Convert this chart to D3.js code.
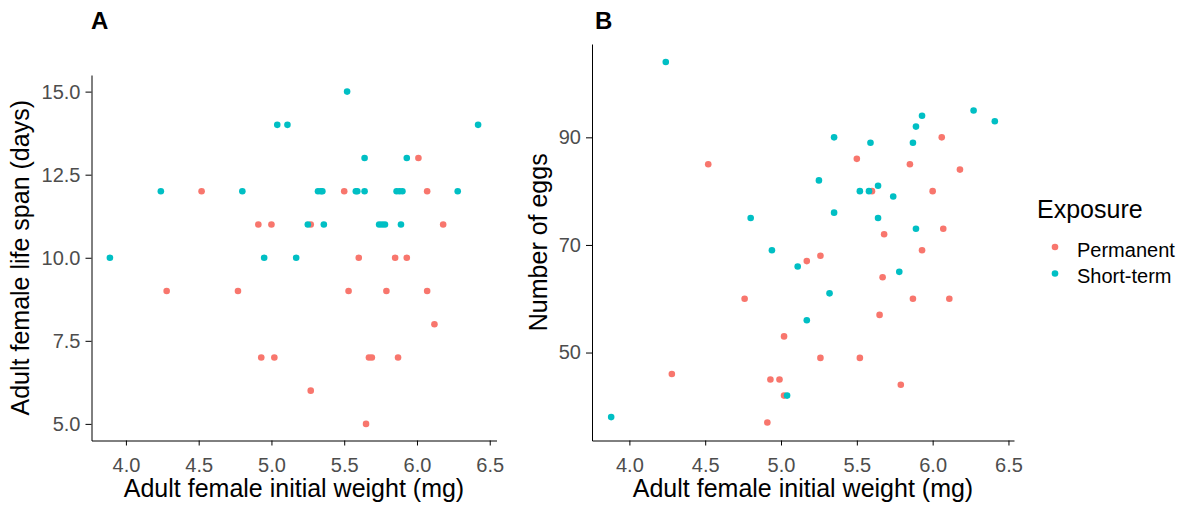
<!DOCTYPE html>
<html>
<head>
<meta charset="utf-8">
<script src="https://cdn.jsdelivr.net/npm/d3@7"></script>
<style>
  body { margin: 0; background: #fff; }
  svg text { font-family: "Liberation Sans", Arial, sans-serif; }
  .axis text { font-size: 20px; fill: #4d4d4d; }
  .axis path, .axis line { stroke: #000; stroke-width: 1px; }
  .axisLabel { font-size: 25px; fill: #000; }
  .tag { font-size: 24px; font-weight: bold; }
</style>
</head>
<body>
<div id="chart"></div>
<script>
// data: [initial weight (mg), value]
const lifespanPermanent = [
  [6.01,13],[4.52,12],[5.50,12],[6.07,12],[4.91,11],[5.00,11],[5.27,11],[6.18,11],
  [5.60,10],[5.85,10],[5.93,10],[4.28,9],[4.77,9],[5.53,9],[5.79,9],[6.07,9],
  [6.12,8],[4.93,7],[5.02,7],[5.67,7],[5.69,7],[5.87,7],[5.27,6],[5.65,5]
];
const lifespanShort = [
  [5.52,15],[5.04,14],[5.11,14],[6.42,14],[5.64,13],[5.93,13],[4.24,12],[4.80,12],
  [5.32,12],[5.34,12],[5.35,12],[5.58,12],[5.59,12],[5.64,12],[5.86,12],[5.88,12],
  [5.90,12],[6.28,12],[5.25,11],[5.36,11],[5.74,11],[5.76,11],[5.78,11],[5.89,11],
  [3.89,10],[4.95,10],[5.17,10]
];
const eggsPermanent = [
  [6.06,90],[5.50,86],[4.52,85],[5.85,85],[6.18,84],[5.60,80],[6.00,80],[6.07,73],
  [5.68,72],[5.93,69],[5.26,68],[5.17,67],[5.67,64],[4.76,60],[5.87,60],[6.11,60],
  [5.65,57],[5.02,53],[5.26,49],[5.52,49],[4.28,46],[4.93,45],[4.99,45],[5.79,44],
  [5.02,42],[4.91,37]
];
const eggsShort = [
  [4.24,104],[6.27,95],[5.93,94],[5.89,92],[6.41,93],[5.35,90],[5.59,89],[5.87,89],
  [5.25,82],[5.64,81],[5.52,80],[5.58,80],[5.74,79],[4.80,75],[5.35,76],[5.64,75],
  [5.89,73],[4.94,69],[5.11,66],[5.78,65],[5.32,61],[5.17,56],[5.04,42],[3.88,38]
];

const groups = ["Permanent", "Short-term"];
const colors = ["#F8766D", "#00BFC4"];
const xTicks = [4.0, 4.5, 5.0, 5.5, 6.0, 6.5];
const lifespanTicks = [5.0, 7.5, 10.0, 12.5, 15.0];
const eggsTicks = [50, 70, 90];

const width = 1186, height = 506;

const svg = d3.select("#chart")
  .append("svg")
  .attr("width", width)
  .attr("height", height);

// ggplot style 5% padding on the data range
function padded(vals) {
  const ext = d3.extent(vals);
  const pad = (ext[1] - ext[0]) * 0.05;
  return [ext[0] - pad, ext[1] + pad];
}

function drawPanel(opts) {
  const all = opts.series[0].concat(opts.series[1]);
  const m = opts.box;

  const xScale = d3.scaleLinear()
    .domain(padded(all.map(d => d[0])))
    .range([m.left, m.right]);

  const yScale = d3.scaleLinear()
    .domain(padded(all.map(d => d[1])))
    .range([m.bottom, m.top]);

  svg.append("g")
    .attr("class", "axis")
    .attr("transform", `translate(0,${m.bottom})`)
    .call(d3.axisBottom(xScale).tickValues(xTicks).tickFormat(d3.format(".1f"))
      .tickSize(5).tickSizeOuter(0).tickPadding(12));

  svg.append("g")
    .attr("class", "axis")
    .attr("transform", `translate(${m.left},0)`)
    .call(d3.axisLeft(yScale).tickValues(opts.yTicks).tickFormat(opts.yFormat)
      .tickSize(6).tickSizeOuter(0).tickPadding(5));

  opts.series.forEach(function(s, i) {
    svg.append("g").selectAll("circle")
      .data(s)
      .enter()
      .append("circle")
        .attr("cx", d => xScale(d[0]))
        .attr("cy", d => yScale(d[1]))
        .attr("r", 3.3)
        .attr("fill", colors[i]);
  });

  svg.append("text")
    .attr("class", "axisLabel")
    .attr("text-anchor", "middle")
    .attr("x", (m.left + m.right) / 2)
    .attr("y", 497)
    .text("Adult female initial weight (mg)");

  svg.append("text")
    .attr("class", "axisLabel")
    .attr("text-anchor", "middle")
    .attr("transform", `translate(${opts.yTitleX},${(m.top + m.bottom) / 2}) rotate(-90)`)
    .text(opts.yTitle);

  svg.append("text")
    .attr("class", "tag")
    .attr("x", opts.tagX)
    .attr("y", 29)
    .text(opts.tag);
}

drawPanel({
  series: [lifespanPermanent, lifespanShort],
  box: {left: 91.5, right: 496.5, top: 75, bottom: 440.5},
  yTicks: lifespanTicks,
  yFormat: d3.format(".1f"),
  yTitle: "Adult female life span (days)",
  yTitleX: 28.5,
  tag: "A",
  tagX: 91
});

drawPanel({
  series: [eggsPermanent, eggsShort],
  box: {left: 592, right: 1014, top: 44, bottom: 440.5},
  yTicks: eggsTicks,
  yFormat: d3.format("d"),
  yTitle: "Number of eggs",
  yTitleX: 546.5,
  tag: "B",
  tagX: 595
});

// legend
const legend = svg.append("g");
legend.append("text")
  .attr("class", "axisLabel")
  .attr("x", 1037)
  .attr("y", 218)
  .text("Exposure");

groups.forEach(function(g, i) {
  const cy = 247 + i * 26.5;
  legend.append("circle")
    .attr("cx", 1055)
    .attr("cy", cy)
    .attr("r", 3.3)
    .attr("fill", colors[i]);
  legend.append("text")
    .attr("x", 1077)
    .attr("y", cy + 9.5)
    .style("font-size", "20px")
    .attr("fill", "#000")
    .text(g);
});
</script>
</body>
</html>
